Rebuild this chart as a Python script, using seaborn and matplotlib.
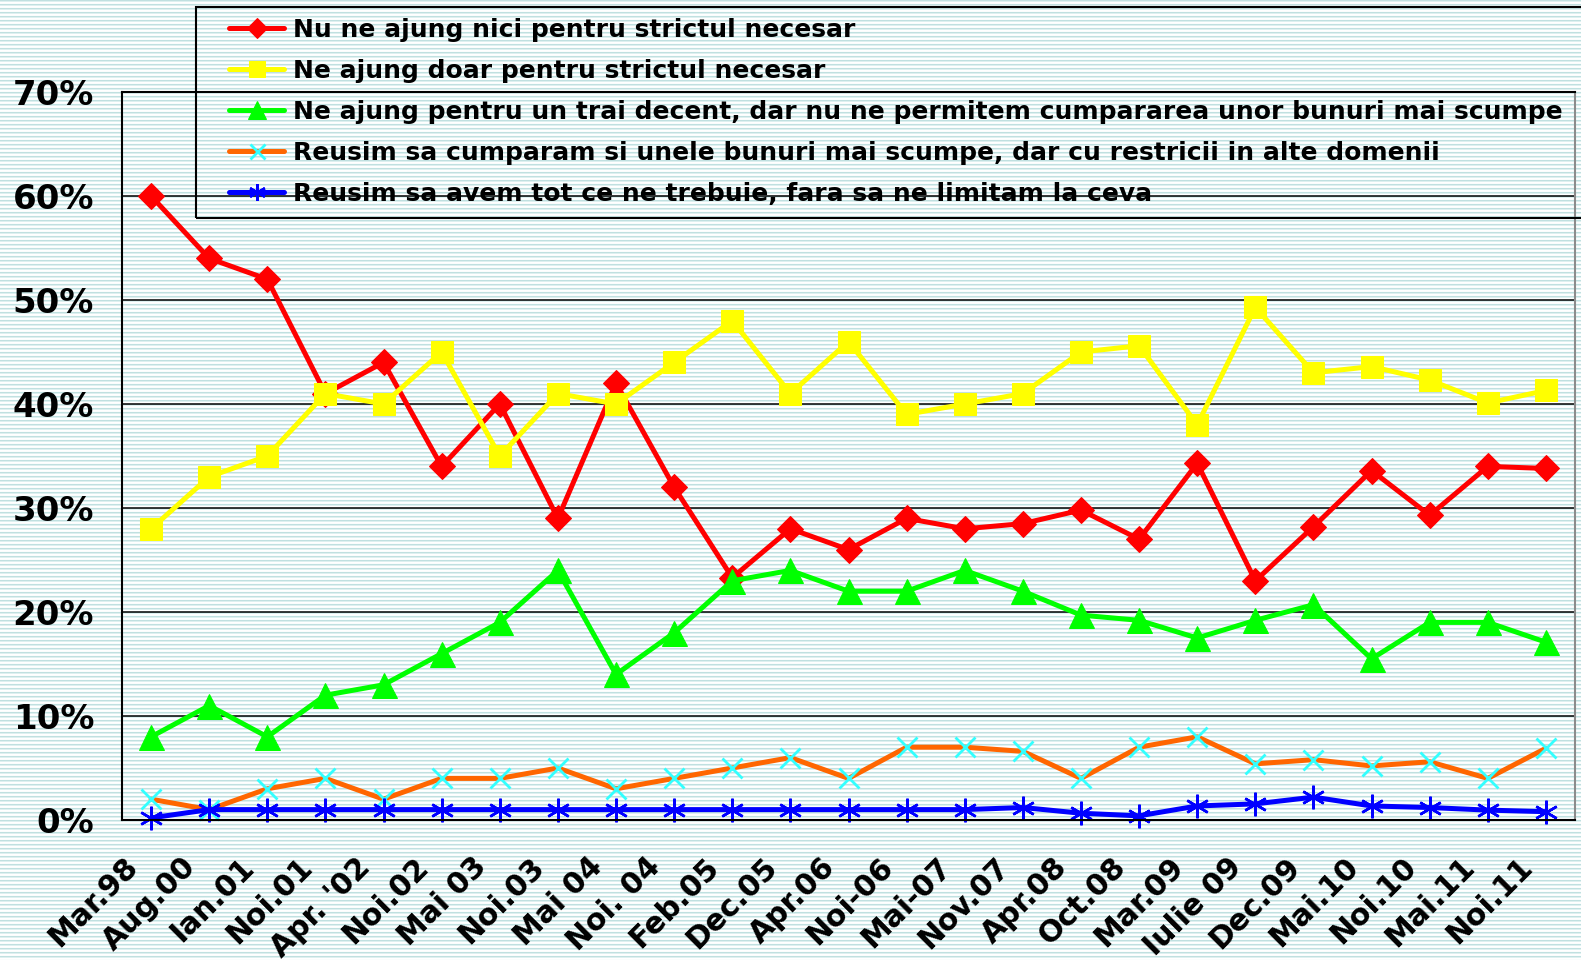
import numpy as np
import pandas as pd
import matplotlib
matplotlib.use("Agg")
import matplotlib.pyplot as plt
import matplotlib.transforms as mtransforms
from matplotlib.patches import Rectangle
from matplotlib.ticker import FixedLocator, FuncFormatter
import seaborn as sns

categories = ["Mar.98", "Aug.00", "Ian.01", "Noi.01", "Apr. '02", "Noi.02", "Mai 03",
              "Noi.03", "Mai 04", "Noi. 04", "Feb.05", "Dec.05", "Apr.06", "Noi-06",
              "Mai-07", "Nov.07", "Apr.08", "Oct.08", "Mar.09", "Iulie 09", "Dec.09",
              "Mai.10", "Noi.10", "Mai.11", "Noi.11"]

nu_ajung = [60, 54, 52, 41, 44, 34, 40, 29, 42, 32, 23.3, 28, 26, 29, 28, 28.5, 29.8,
            27, 34.3, 23, 28.2, 33.6, 29.3, 34, 33.8]
strict_necesar = [28, 33, 35, 41, 40, 45, 35, 41, 40, 44, 48, 41, 46, 39, 40, 41, 45,
                  45.6, 38, 49.3, 43, 43.6, 42.3, 40.1, 41.3]
trai_decent = [8, 11, 8, 12, 13, 16, 19, 24, 14, 18, 23, 24, 22, 22, 24, 22, 19.7, 19.2,
               17.5, 19.2, 20.7, 15.5, 19, 19, 17.1]
bunuri_scumpe = [2, 1, 3, 4, 2, 4, 4, 5, 3, 4, 5, 6, 4, 7, 7, 6.6, 4, 7, 8, 5.4, 5.8,
                 5.2, 5.6, 4, 6.9]
tot_ce_trebuie = [0.2, 1, 1, 1, 1, 1, 1, 1, 1, 1, 1, 1, 1, 1, 1, 1.2, 0.65, 0.4, 1.35,
                  1.55, 2.2, 1.35, 1.2, 0.95, 0.8]

labels = ["Nu ne ajung nici pentru strictul necesar",
          "Ne ajung doar pentru strictul necesar",
          "Ne ajung pentru un trai decent, dar nu ne permitem cumpararea unor bunuri mai scumpe",
          "Reusim sa cumparam si unele bunuri mai scumpe, dar cu restricii in alte domenii",
          "Reusim sa avem tot ce ne trebuie, fara sa ne limitam la ceva"]

sns.set_theme(style="white")
plt.rcParams["font.family"] = ["DejaVu Sans"]
plt.rcParams["font.weight"] = "bold"
for k in ["text.color", "axes.labelcolor", "xtick.color", "ytick.color"]:
    plt.rcParams[k] = "black"

W, H = 1581, 960
fig = plt.figure(figsize=(W / 100, H / 100), dpi=100)

# striped background
bg = fig.add_axes([0, 0, 1, 1], zorder=-10)
row_cols = np.array([[192, 224, 224], [222, 240, 240], [255, 255, 255], [250, 253, 253]]) / 255.0
stripes = np.tile(row_cols, (H // 4, 1)).reshape(H, 1, 3)
bg.imshow(stripes, aspect="auto", interpolation="nearest", extent=(0, 1, 0, 1))
bg.set_axis_off()

left, right, top, bottom = 122, 1575, 92, 820
ax = fig.add_axes([left / W, 1 - bottom / H, (right - left) / W, (bottom - top) / H])
ax.set_facecolor("none")

x = np.arange(len(categories))
df = pd.DataFrame({"x": x, "a": nu_ajung, "b": strict_necesar, "c": trai_decent,
                   "d": bunuri_scumpe, "e": tot_ce_trebuie})

styles = [
    ("a", dict(color="#ff0000", marker="D", markersize=13.5, markerfacecolor="#ff0000",
               markeredgecolor="#ff0000")),
    ("b", dict(color="#ffff00", marker="s", markersize=16, markerfacecolor="#ffff00",
               markeredgecolor="#ffff00")),
    ("c", dict(color="#00ff00", marker="^", markersize=18, markerfacecolor="#00ff00",
               markeredgecolor="#00ff00")),
    ("d", dict(color="#ff6600", marker="x", markersize=15, markeredgecolor="#33ffff",
               markeredgewidth=2)),
    ("e", dict(color="#0000ff", marker=(6, 2, 0), markersize=17, markeredgecolor="#0000ff",
               markeredgewidth=1.8)),
]
for (col, st), lab in zip(styles, labels):
    sns.lineplot(data=df, x="x", y=col, ax=ax, sort=False, linewidth=3.6, label=lab,
                 clip_on=False, **st)

ax.set_xlim(-0.5, len(categories) - 0.5)
ax.set_ylim(0, 70)
ax.set_xlabel("")
ax.set_ylabel("")

ax.yaxis.set_major_locator(FixedLocator(np.arange(0, 71, 10)))
ax.yaxis.set_major_formatter(FuncFormatter(lambda v, p: f"{v:.0f}%"))
ax.grid(axis="y", color="black", linewidth=1.1)
ax.grid(axis="x", visible=False)
ax.tick_params(axis="y", which="major", direction="out", length=8, width=1.3,
               color="black", pad=12, labelsize=24.5)
for t in ax.get_yticklabels():
    t.set_fontweight("bold")

ax.set_xticks(x)
ax.set_xticklabels(categories, fontsize=21.5, fontweight="bold")
ax.xaxis.set_minor_locator(FixedLocator(np.arange(-0.5, len(categories), 1.0)))
ax.tick_params(axis="x", which="major", length=0, pad=32 * 72 / 100)
ax.tick_params(axis="x", which="minor", direction="out", length=8, width=1.3, color="black")
shift = mtransforms.ScaledTranslation(-28 / 100, 0, fig.dpi_scale_trans)
for t in ax.get_xticklabels():
    t.set_rotation(45)
    t.set_ha("right")
    t.set_va("top")
    t.set_rotation_mode("anchor")
    t.set_transform(t.get_transform() + shift)

for s in ["left", "bottom", "top"]:
    ax.spines[s].set_color("black")
    ax.spines[s].set_linewidth(1.5)
    ax.spines[s].set_visible(True)
ax.spines["right"].set_color("#8c8c8c")
ax.spines["right"].set_linewidth(1.5)
ax.spines["right"].set_visible(True)

handles, labs = ax.get_legend_handles_labels()
if ax.legend_:
    ax.legend_.remove()
leg = fig.legend(handles, labs, loc="upper left", bbox_to_anchor=(229 / W, 1 - 18 / H),
                 frameon=False, borderpad=0, borderaxespad=0, handlelength=2.2,
                 handletextpad=0.35, labelspacing=0.68, prop=dict(size=18, weight="bold"),
                 numpoints=1, markerscale=0.72)
fig.patches.append(Rectangle((196 / W, 1 - 218 / H), 1.2, 211 / H, transform=fig.transFigure,
                             fill=False, edgecolor="black", linewidth=1.5))

fig.savefig("out.png", dpi=100)
